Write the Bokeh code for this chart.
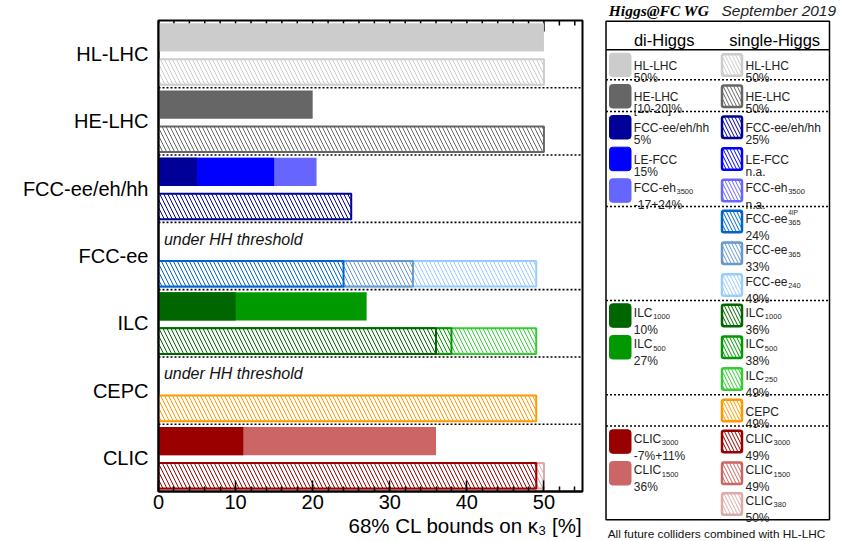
from bokeh.plotting import figure
from bokeh.layouts import row
from bokeh.models import Range1d, FixedTicker, Title
from bokeh.core.properties import value
from bokeh.embed import file_html
from bokeh.resources import INLINE

# ---------------- data ----------------
colliders = ["HL-LHC", "HE-LHC", "FCC-ee/eh/hh", "FCC-ee", "ILC", "CEPC", "CLIC"]

# di-Higgs bars (drawn largest first, overlapping from 0)
di_collider = ["HL-LHC", "HE-LHC", "FCC-ee/eh/hh", "FCC-ee/eh/hh", "FCC-ee/eh/hh",
               "ILC", "ILC", "CLIC", "CLIC"]
di_value = [50, 20, 20.5, 15, 5, 27, 10, 36, 11]
di_color = ["#cccccc", "#666666", "#6666ff", "#0000ff", "#000099",
            "#009900", "#006600", "#cc6666", "#990000"]

# single-Higgs bars (drawn largest first, overlapping from 0)
sg_collider = ["HL-LHC", "HE-LHC", "FCC-ee/eh/hh", "FCC-ee", "FCC-ee", "FCC-ee",
               "ILC", "ILC", "ILC", "CEPC", "CLIC", "CLIC", "CLIC"]
sg_value = [50, 50, 25, 49, 33, 24, 49, 38, 36, 49, 50, 49, 49]
sg_color = ["#cccccc", "#666666", "#000099", "#99ccff", "#6699cc", "#0066cc",
            "#33cc33", "#009900", "#006600", "#ff9900", "#ddaaaa", "#cc6666", "#990000"]

threshold_collider = ["FCC-ee", "CEPC"]
threshold_text = "under HH threshold"

x_ticks = [0, 10, 20, 30, 40, 50]
x_minor_ticks = list(range(0, 56, 2))
x_title = "68% CL bounds on κ₃ [%]"

# legend entries
di_leg_name = ["HL-LHC", "HE-LHC", "FCC-ee/eh/hh", "LE-FCC", "FCC-eh", "ILC", "ILC", "CLIC", "CLIC"]
di_leg_sub = ["", "", "", "", "3500", "1000", "500", "3000", "1500"]
di_leg_val = ["50%", "[10-20]%", "5%", "15%", "-17+24%", "10%", "27%", "-7%+11%", "36%"]
di_leg_color = ["#cccccc", "#666666", "#000099", "#0000ff", "#6666ff",
                "#006600", "#009900", "#990000", "#cc6666"]
di_leg_slot = [0, 1, 2, 3, 4, 8, 9, 12, 13]

sg_leg_name = ["HL-LHC", "HE-LHC", "FCC-ee/eh/hh", "LE-FCC", "FCC-eh", "FCC-ee", "FCC-ee",
               "FCC-ee", "ILC", "ILC", "ILC", "CEPC", "CLIC", "CLIC", "CLIC"]
sg_leg_sub = ["", "", "", "", "3500", "365", "365", "240", "1000", "500", "250", "",
              "3000", "1500", "380"]
sg_leg_sup = ["", "", "", "", "", "4IP", "", "", "", "", "", "", "", "", ""]
sg_leg_val = ["50%", "50%", "25%", "n.a.", "n.a.", "24%", "33%", "49%", "36%", "38%",
              "49%", "49%", "49%", "49%", "50%"]
sg_leg_color = ["#cccccc", "#666666", "#000099", "#0000ff", "#6666ff", "#0066cc", "#6699cc",
                "#99ccff", "#006600", "#009900", "#33cc33", "#ff9900", "#990000", "#cc6666",
                "#ddaaaa"]
sg_leg_slot = list(range(15))

FONT = "Liberation Sans"

# ---------------- main plot ----------------
n = len(colliders)
row_center = {c: n - 1 - i for i, c in enumerate(colliders)}
ROW_PX = 471 / n  # frame height per collider row, for tick lengths

p = figure(width=590, height=541, x_range=Range1d(0, 55), y_range=Range1d(-0.5, n - 0.5),
           output_backend="svg", toolbar_location=None, title=None,
           min_border_left=158, min_border_right=8, min_border_top=20, min_border_bottom=50)
p.frame_align = False
p.xgrid.visible = False
p.ygrid.visible = False
p.outline_line_color = "black"
p.outline_line_width = 2
p.background_fill_color = "white"
p.border_fill_color = "white"

xa = p.xaxis[0]
xa.ticker = FixedTicker(ticks=x_ticks, minor_ticks=x_minor_ticks)
xa.axis_line_width = 2
xa.axis_line_color = "black"
xa.major_tick_in = 11
xa.major_tick_out = 0
xa.minor_tick_in = 5
xa.minor_tick_out = 0
xa.major_tick_line_width = 1.5
xa.minor_tick_line_width = 1.5
xa.major_tick_line_color = "black"
xa.minor_tick_line_color = "black"
xa.major_label_text_font = FONT
xa.major_label_text_font_size = "20px"
xa.major_label_text_color = "black"
xa.major_label_standoff = 3

ya = p.yaxis[0]
ya.ticker = FixedTicker(ticks=list(range(n)))
ya.major_label_overrides = {row_center[c]: c for c in colliders}
ya.major_tick_line_color = None
ya.minor_tick_line_color = None
ya.axis_line_width = 2
ya.axis_line_color = "black"
ya.major_label_text_font = FONT
ya.major_label_text_font_size = "20px"
ya.major_label_text_color = "black"
ya.major_label_standoff = 4

# mirrored tick marks along the top edge of the frame
y_top = n - 0.5
minor_only = [t for t in x_minor_ticks if t not in x_ticks]
p.segment(x0=x_ticks, x1=x_ticks, y0=y_top, y1=y_top - 11 / ROW_PX,
          line_color="black", line_width=1.5)
p.segment(x0=minor_only, x1=minor_only, y0=y_top, y1=y_top - 5 / ROW_PX,
          line_color="black", line_width=1.5)

# x-axis title, ROOT style (right aligned under the axis)
p.add_layout(Title(text=x_title, align="right", text_font=FONT, text_font_size="20.5px",
                   text_font_style="normal", text_color="black", standoff=0, offset=0),
             "below")

# dotted separators between colliders
sep_y = [i + 0.5 for i in range(n - 1)]
p.segment(x0=0, x1=55, y0=sep_y, y1=sep_y, line_color="black", line_width=1.6,
          line_dash="2 2")

# di-Higgs bars
p.hbar(y=[row_center[c] + 0.25 for c in di_collider], left=0, right=di_value, height=0.42,
       fill_color=di_color, line_color=None)

# single-Higgs hatched bars
p.hbar(y=[row_center[c] - 0.265 for c in sg_collider], left=0, right=sg_value, height=0.38,
       fill_color="white", line_color=sg_color, line_width=2,
       hatch_pattern="\\", hatch_color=sg_color, hatch_scale=8, hatch_weight=1)

p.text(x=[0.7] * len(threshold_collider),
       y=[row_center[c] + 0.25 for c in threshold_collider],
       text=[threshold_text] * len(threshold_collider),
       text_font=value(FONT), text_font_style="italic", text_font_size="16px",
       text_baseline="middle", text_color="#111111")

# ---------------- legend panel (page pixel coordinates) ----------------
lg = figure(width=274, height=541, x_range=Range1d(590, 864), y_range=Range1d(541, 0),
            output_backend="svg", toolbar_location=None, min_border=0, title=None,
            x_axis_location=None, y_axis_location=None)
lg.frame_align = False
lg.grid.visible = False
lg.outline_line_color = None

box_l, box_r, box_t, box_b = 605.5, 829, 20.7, 519.3
lg.quad(left=box_l, right=box_r, top=box_t, bottom=box_b, fill_color=None,
        line_color="black", line_width=1.5)
lg.segment(x0=box_l, x1=box_r, y0=49.3, y1=49.3, line_color="black", line_width=1.5)
leg_sep = [79.3, 111, 206, 300, 394.3, 425.5]
lg.segment(x0=box_l, x1=box_r, y0=leg_sep, y1=leg_sep, line_color="black",
           line_width=1.5, line_dash="2 2")

lg.text(x=[663.7, 774.2], y=[39.5, 39.5], text=["di-Higgs", "single-Higgs"],
        text_font=value(FONT), text_font_size="16.5px", text_align="center",
        text_baseline="alphabetic", text_color="black")

slot_top = [52.7, 84, 115, 146.7, 178.3, 209.3, 241, 272.7, 303.3, 335, 366.7, 398.3,
            429.3, 461, 491.7]
em = {"FCC-eh": 3.5, "FCC-ee": 3.5, "ILC": 1.556, "CLIC": 2.278}
FS = 12


def legend_column(names, subs, sups, vals, colors, slots, box_x0, text_x, hatched):
    tops = [slot_top[s] for s in slots]
    if hatched:
        lg.quad(left=box_x0 + 1, right=box_x0 + 21, top=[t + 1 for t in tops],
                bottom=[t + 22.5 for t in tops], fill_color="white", line_color=colors,
                line_width=2.5, hatch_pattern="\\", hatch_color=colors, hatch_scale=7,
                hatch_weight=1, border_radius=2)
    else:
        lg.quad(left=box_x0, right=box_x0 + 21.5, top=tops,
                bottom=[t + 23.5 for t in tops], fill_color=colors, line_color=colors,
                line_width=1, border_radius=3)
    l1y, l1t, l2y, l2t = [], [], [], []
    sx, sy, st, ux, uy, ut = [], [], [], [], [], []
    for name, sub, sup, val, t in zip(names, subs, sups, vals, tops):
        if sub or sup:
            y1, y2 = t + 4.5, t + 21.5
        else:
            y1, y2 = t + 8.5, t + 20.5
        l1y.append(y1 + 4.3)
        l1t.append(name)
        l2y.append(y2 + 4.3)
        l2t.append(val)
        if sub:
            sx.append(text_x + em[name] * FS + 0.7)
            sy.append(t + 10 + 2.6)
            st.append(sub)
        if sup:
            ux.append(text_x + em[name] * FS + 0.7)
            uy.append(t + 0.3 + 2.4)
            ut.append(sup)
    lg.text(x=[text_x] * len(l1t), y=l1y, text=l1t, text_font=value(FONT),
            text_font_size=f"{FS}px", text_baseline="alphabetic", text_color="#222222")
    lg.text(x=[text_x] * len(l2t), y=l2y, text=l2t, text_font=value(FONT),
            text_font_size=f"{FS}px", text_baseline="alphabetic", text_color="#222222")
    if st:
        lg.text(x=sx, y=sy, text=st, text_font=value(FONT), text_font_size="7.5px",
                text_baseline="alphabetic", text_color="#222222")
    if ut:
        lg.text(x=ux, y=uy, text=ut, text_font=value(FONT), text_font_size="6.5px",
                text_baseline="alphabetic", text_color="#222222")


legend_column(di_leg_name, di_leg_sub, [""] * len(di_leg_name), di_leg_val, di_leg_color,
              di_leg_slot, 609, 633.3, False)
legend_column(sg_leg_name, sg_leg_sub, sg_leg_sup, sg_leg_val, sg_leg_color,
              sg_leg_slot, 720.5, 745, True)

lg.text(x=[608.3], y=[10], text=["Higgs@FC WG"], text_font=value("Liberation Serif"),
        text_font_style="bold italic", text_font_size="15.5px", text_baseline="alphabetic",
        text_color="black")
lg.text(x=[721], y=[10], text=["September 2019"], text_font=value(FONT),
        text_font_style="italic", text_font_size="15.5px", text_baseline="alphabetic",
        text_color="#222222")
lg.text(x=[716], y=[533.5], text=["All future colliders combined with HL-LHC"],
        text_font=value(FONT), text_font_size="11.8px", text_align="center",
        text_baseline="alphabetic", text_color="#111111")

layout = row(p, lg, spacing=0)
open("out.html", "w").write(file_html(layout, INLINE))
